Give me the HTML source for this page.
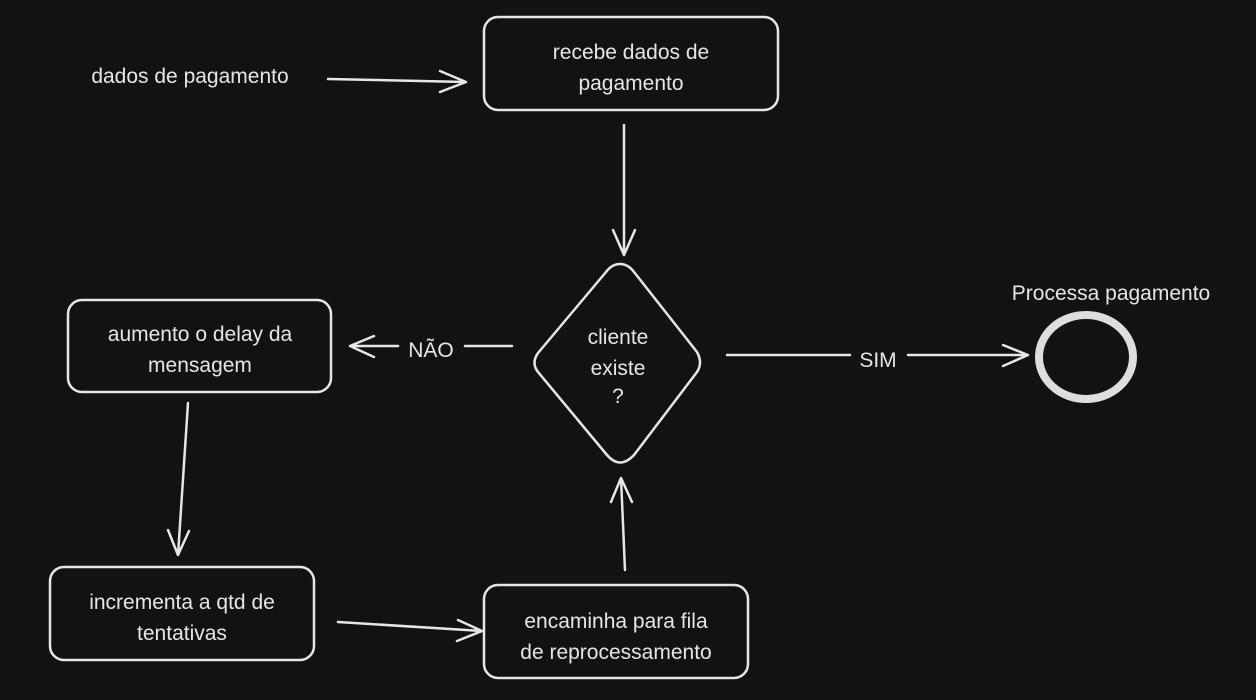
<!DOCTYPE html>
<html><head><meta charset="utf-8"><style>
html,body{margin:0;padding:0;background:#121212;}
svg{display:block}
text{font-family:"Liberation Sans",sans-serif;fill:#e6e6e6;font-size:21px;}
</style></head><body>
<svg width="1256" height="700" viewBox="0 0 1256 700" xmlns="http://www.w3.org/2000/svg">
<rect width="1256" height="700" fill="#121212"/>
<g fill="none" stroke="#e6e6e6" stroke-width="2.5" stroke-linecap="round" stroke-linejoin="round">
<rect x="484" y="17" width="294" height="93" rx="14"/>
<path d="M620 264 Q628 264 634 272 L697 352 Q703 363 697 372 L634 455 Q620 470 607 455 L538 372 Q531 363 538 353 L606 272 Q612 264 620 264Z"/>
<rect x="68" y="300" width="263" height="92" rx="14"/>
<rect x="50" y="567" width="264" height="93" rx="14"/>
<rect x="484" y="585" width="264" height="93" rx="14"/>
<ellipse cx="1086" cy="357" rx="47" ry="42" stroke-width="8" stroke="#dedede"/>
<path d="M328 79 L466 82 M440 71 L466 82 L440 92"/>
<path d="M624 125 L624 255 M613 230 L624 255 L635 230"/>
<path d="M512 346 L465 346"/>
<path d="M398 346 L350 346 M374 336 L350 346 L374 357"/>
<path d="M727 355 L850 355 M908 355 L1028 355 M1003 345 L1028 355 L1003 366"/>
<path d="M188 403 L178 555 M168 530 L178 555 L189 531"/>
<path d="M338 622 L482 631 M458 620 L482 631 L457 641"/>
<path d="M625 570 L621 478 M611 502 L621 478 L632 502"/>
</g>
<g text-anchor="middle">
<text x="190" y="83">dados de pagamento</text>
<text x="631" y="59">recebe dados de</text>
<text x="631" y="90">pagamento</text>
<text x="618" y="344">cliente</text>
<text x="618" y="375">existe</text>
<text x="618" y="403">?</text>
<text x="200" y="341">aumento o delay da</text>
<text x="200" y="372">mensagem</text>
<text x="182" y="609">incrementa a qtd de</text>
<text x="182" y="640">tentativas</text>
<text x="616" y="628">encaminha para fila</text>
<text x="616" y="659">de reprocessamento</text>
<text x="1111" y="300">Processa pagamento</text>
<text x="431" y="357">NÃO</text>
<text x="878" y="367">SIM</text>
</g>
</svg>
</body></html>
